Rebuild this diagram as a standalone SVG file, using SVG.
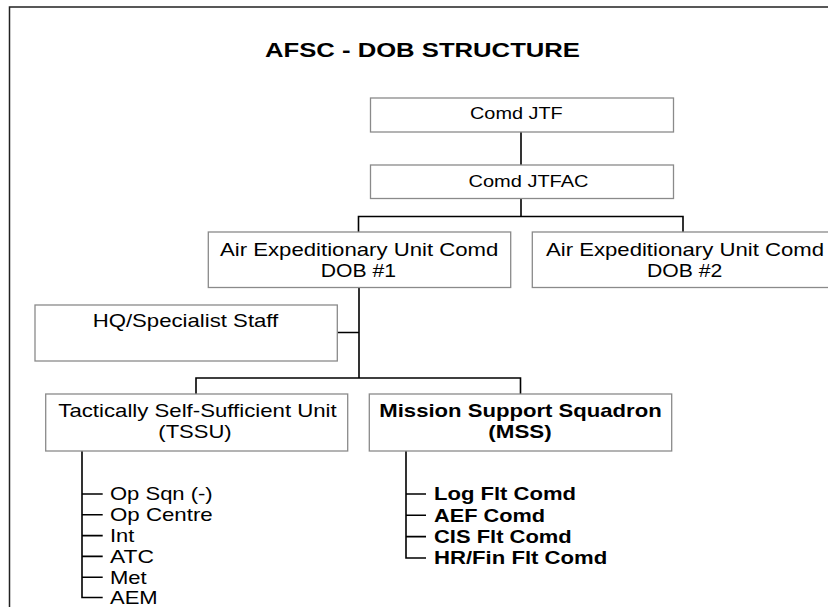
<svg xmlns="http://www.w3.org/2000/svg" width="828" height="607" viewBox="0 0 828 607">
  <style>
    text { font-family: "Liberation Sans", Arial, sans-serif; fill: #000; }
    .title { font-size: 19.5px; font-weight: bold; }
    .top { font-size: 16px; }
    .lbl { font-size: 18.5px; }
    .b { font-weight: bold; }
    .box { fill: #fff; stroke: #8a8a8a; stroke-width: 1.3; }
    .wire { fill: none; stroke: #000; stroke-width: 1.6; }
  </style>

  <rect width="828" height="607" fill="#fff"/>
  <!-- page frame -->
  <path d="M9.5 607 V7 H828" fill="none" stroke="#222" stroke-width="1.5"/>

  <text class="title" x="265" y="56.7" textLength="315" lengthAdjust="spacingAndGlyphs">AFSC - DOB STRUCTURE</text>

  <!-- connectors -->
  <g id="connectors" class="wire">
    <path d="M521 132 V165"/>
    <path d="M521 198.5 V216.5 M358.5 232 V216.5 H683 V232"/>
    <path d="M359 287.5 V378 M337 332.5 H359"/>
    <path d="M196 394 V378 H520.5 V394"/>
    <path d="M82 451 V597.5 H102.7 M82 494 H102.7 M82 514.8 H102.7 M82 535.6 H102.7 M82 556.4 H102.7 M82 577.2 H102.7"/>
    <path d="M406 451 V558 H426 M406 494 H426 M406 515.3 H426 M406 536.6 H426"/>
  </g>

  <g id="comd-jtf">
    <rect class="box" x="370.5" y="98" width="303" height="34"/>
    <text class="top" x="470" y="119.3" textLength="92.7" lengthAdjust="spacingAndGlyphs">Comd JTF</text>
  </g>

  <g id="comd-jtfac">
    <rect class="box" x="370.5" y="165" width="303" height="33.5"/>
    <text class="top" x="468.5" y="187.3" textLength="120" lengthAdjust="spacingAndGlyphs">Comd JTFAC</text>
  </g>

  <g id="aeu-dob1">
    <rect class="box" x="208.3" y="232" width="302.4" height="55.5"/>
    <text class="lbl" x="220" y="256" textLength="278.3" lengthAdjust="spacingAndGlyphs">Air Expeditionary Unit Comd</text>
    <text class="lbl" x="320.7" y="277" textLength="75.3" lengthAdjust="spacingAndGlyphs">DOB #1</text>
  </g>

  <g id="aeu-dob2">
    <rect class="box" x="532.3" y="232" width="302.4" height="55.5"/>
    <text class="lbl" x="546" y="256" textLength="278" lengthAdjust="spacingAndGlyphs">Air Expeditionary Unit Comd</text>
    <text class="lbl" x="647" y="277" textLength="75.3" lengthAdjust="spacingAndGlyphs">DOB #2</text>
  </g>

  <g id="hq-staff">
    <rect class="box" x="35" y="305" width="302.3" height="56"/>
    <text class="lbl" x="92.7" y="327" textLength="185.6" lengthAdjust="spacingAndGlyphs">HQ/Specialist Staff</text>
  </g>

  <g id="tssu">
    <rect class="box" x="45.7" y="394" width="302" height="57"/>
    <text class="lbl" x="58.3" y="417" textLength="278.4" lengthAdjust="spacingAndGlyphs">Tactically Self-Sufficient Unit</text>
    <text class="lbl" x="158.3" y="438" textLength="73.4" lengthAdjust="spacingAndGlyphs">(TSSU)</text>
  </g>

  <g id="mss">
    <rect class="box" x="369.3" y="394" width="302.4" height="57"/>
    <text class="lbl b" x="379.3" y="417" textLength="282.4" lengthAdjust="spacingAndGlyphs">Mission Support Squadron</text>
    <text class="lbl b" x="488.3" y="438" textLength="63.4" lengthAdjust="spacingAndGlyphs">(MSS)</text>
  </g>

  <g id="tssu-elements">
    <text class="lbl" x="110" y="500.3" textLength="102.7" lengthAdjust="spacingAndGlyphs">Op Sqn (-)</text>
    <text class="lbl" x="110" y="521.1" textLength="102.7" lengthAdjust="spacingAndGlyphs">Op Centre</text>
    <text class="lbl" x="110" y="541.9" textLength="24.3" lengthAdjust="spacingAndGlyphs">Int</text>
    <text class="lbl" x="110" y="562.7" textLength="44" lengthAdjust="spacingAndGlyphs">ATC</text>
    <text class="lbl" x="110" y="583.5" textLength="36.7" lengthAdjust="spacingAndGlyphs">Met</text>
    <text class="lbl" x="110" y="604.3" textLength="47.7" lengthAdjust="spacingAndGlyphs">AEM</text>
  </g>

  <g id="mss-elements">
    <text class="lbl b" x="434" y="500.3" textLength="142" lengthAdjust="spacingAndGlyphs">Log Flt Comd</text>
    <text class="lbl b" x="434" y="521.6" textLength="111" lengthAdjust="spacingAndGlyphs">AEF Comd</text>
    <text class="lbl b" x="434" y="542.9" textLength="137.7" lengthAdjust="spacingAndGlyphs">CIS Flt Comd</text>
    <text class="lbl b" x="434" y="564.3" textLength="173.3" lengthAdjust="spacingAndGlyphs">HR/Fin Flt Comd</text>
  </g>
</svg>
